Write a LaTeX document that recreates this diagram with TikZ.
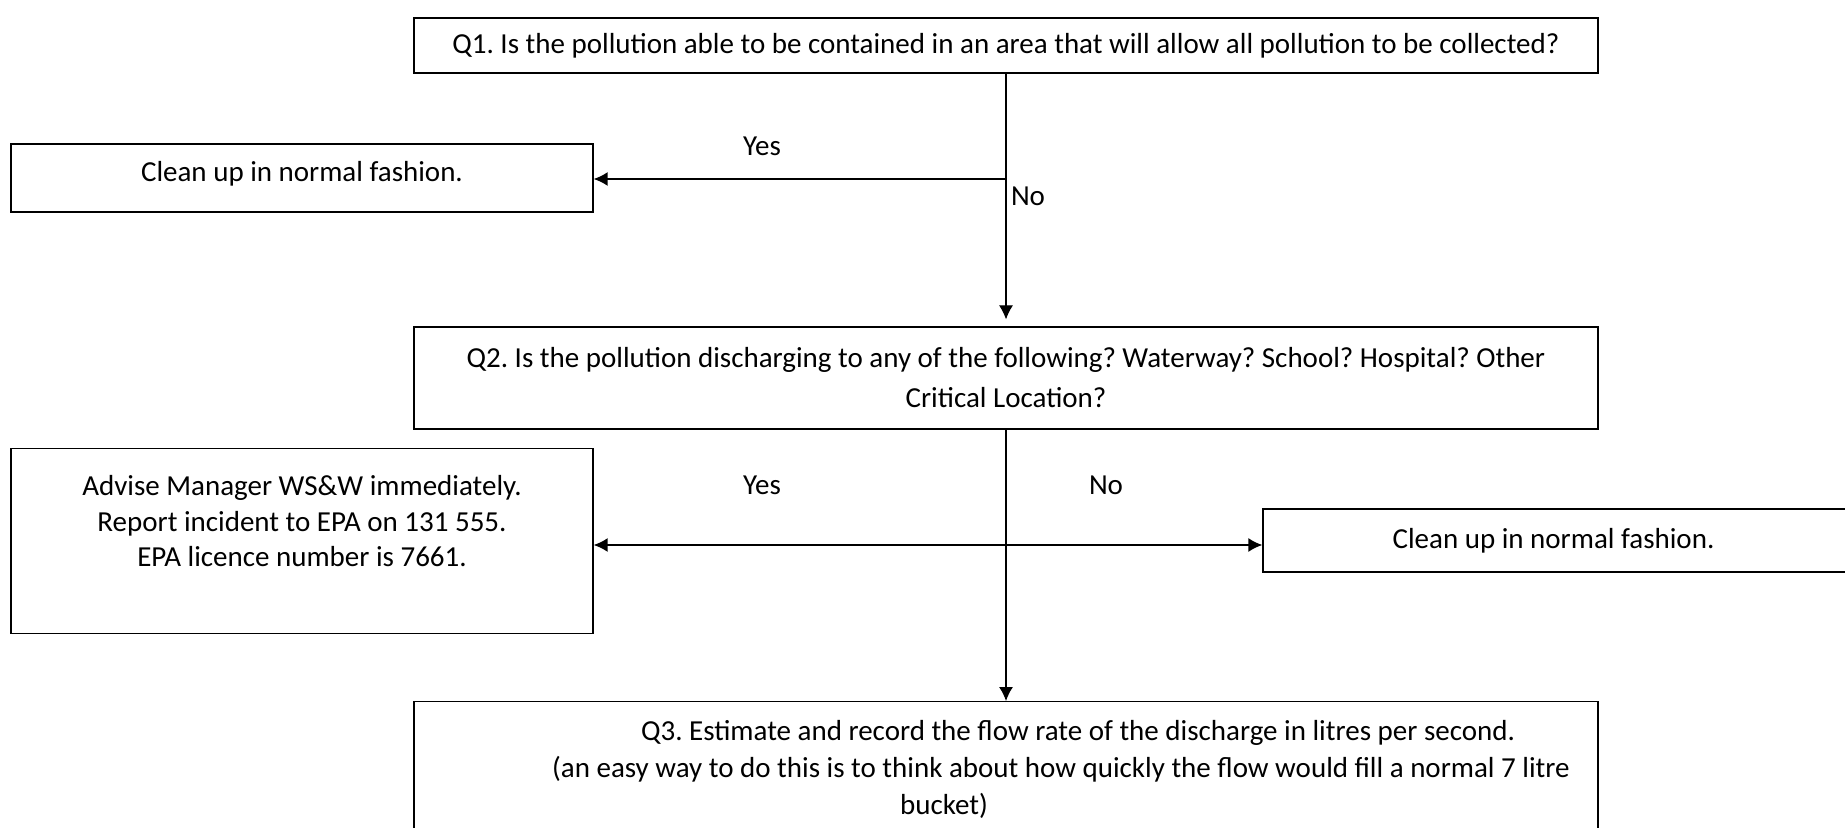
\documentclass[tikz,border=0pt]{standalone}
\usepackage{fontspec}
\setmainfont{Carlito}
\usetikzlibrary{arrows.meta,positioning}
\frenchspacing

\begin{document}
\begin{tikzpicture}[
    x=0.5pt, y=-0.5pt,
    font=\fontsize{14.5}{20}\selectfont,
    >={Latex[length=7pt,width=7pt]},
    box/.style={
		rectangle,
		draw=black,
		line width=0.6pt,
		inner sep=0pt,
		align=center,
		text centered
	},
	flow/.style={
		draw,
		line width=0.6pt,
		->
	},
	branch/.style={
		draw,
		line width=0.9pt,
		->
	},
	answer/.style={
		inner sep=0pt
	}
  ]

 \useasboundingbox (0,0) rectangle (1845,828);
 \clip (0,0) rectangle (1845,828);

% // Questions
 \node [box, minimum width=592pt, minimum height=27.5pt] (q1) at (1006,45.5)
 {Q1. Is the pollution able to be contained in an area that will allow all pollution to be collected?};
 \node [box, minimum width=592pt, minimum height=51pt] (q2) at (1006,378)
 {Q2. Is the pollution discharging to any of the following? Waterway? School? Hospital? Other\\
  Critical Location?};
 \node [box, anchor=north] (q3) at (1006,701)
 {\parbox[c][89.5pt][t]{592pt}{\centering\baselineskip=18.5pt\vspace*{9.3pt}%
  \hspace*{72pt}Q3. Estimate and record the flow rate of the discharge in litres per second.\\
  \hspace*{55pt}(an easy way to do this is to think about how quickly the flow would fill a normal 7 litre\\
  bucket)\hspace*{62pt}}};

% // Answers
 \node [box, minimum width=291pt, minimum height=34pt] (clean1) at (302,178)
 {\raisebox{7pt}{Clean up in normal fashion.}};
 \node [box, anchor=north] (advise) at (302,448)
 {\parbox[c][92.5pt][t]{291pt}{\centering\baselineskip=17.8pt\vspace*{13.5pt}%
  Advise Manager WS\&W immediately.\\
  Report incident to EPA on 131 555.\\
  EPA licence number is 7661.}};
 \node [box, minimum width=318.5pt, minimum height=31.5pt] (clean2) at (1581.5,540.5)
 {\hspace*{-28pt}Clean up in normal fashion.};

% // Connectors
 \coordinate (split1) at (q1.south |- 0,179);
 \coordinate (split2) at (q2.south |- 0,545);
 \draw [flow, shorten >=3.5pt] (q1.south) -- (q2.north);
 \draw [branch] (split1) -- (clean1.east |- split1);
 \draw [flow] (q2.south) -- (q3.north);
 \draw [branch] (split2) -- (advise.east |- split2);
 \draw [branch] (split2) -- (clean2.west |- split2);

% // Labels
 \node [answer] (yes1) at (762,146) {Yes};
 \node [answer] (no1) at (1028,196) {No};
 \node [answer] (yes2) at (762,485) {Yes};
 \node [answer] (no2) at (1106,485) {No};

\end{tikzpicture}
\end{document}
